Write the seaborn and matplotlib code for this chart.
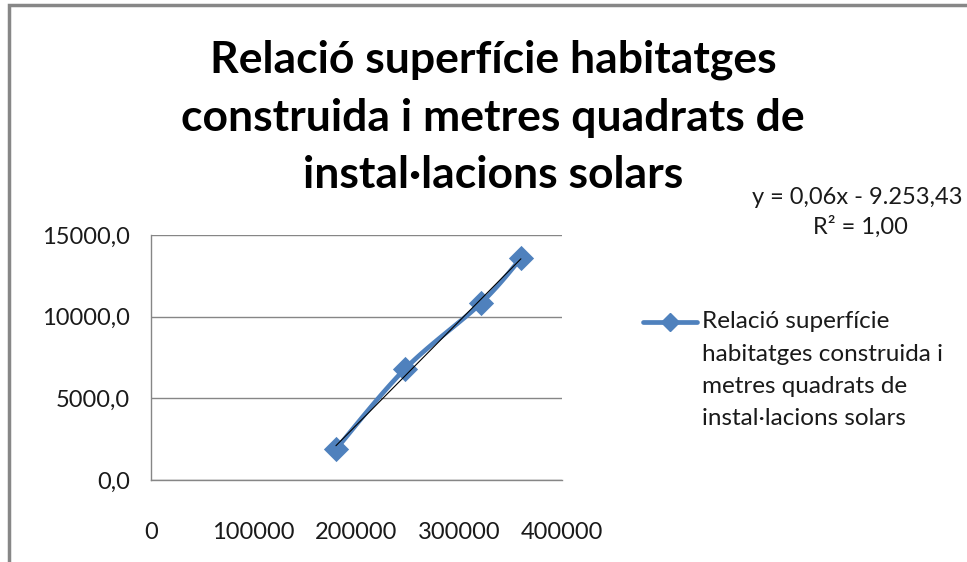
import numpy as np
import pandas as pd
import seaborn as sns
import matplotlib.pyplot as plt
from matplotlib.lines import Line2D
from matplotlib.patches import Rectangle

# data
superficie = [180000, 247000, 321000, 360000]
metres_solars = [1880, 6790, 10820, 13570]
y_ticks = [0, 5000, 10000, 15000]
x_ticks = [0, 100000, 200000, 300000, 400000]
title_lines = ["Relació superfície habitatges",
               "construida i metres quadrats de",
               "instal·lacions solars"]
legend_lines = ["Relació superfície", "habitatges construida i",
                "metres quadrats de", "instal·lacions solars"]
eq_text = "y = 0,06x - 9.253,43"
r2_text = "R² = 1,00"

blue = "#4F81BD"
grid_col = "#868686"
txt_col = "#1a1a1a"

sns.set_style("white")
plt.rcParams['font.family'] = ['Lato', 'DejaVu Sans']

df = pd.DataFrame({"x": superficie, "y": metres_solars})

fig = plt.figure(figsize=(9.67, 5.62), dpi=100)
ax = fig.add_axes([151 / 967, 1 - 480 / 562, 411 / 967, 245 / 562])

# outer chart frame (cropped at right/bottom)
fig.patches.append(Rectangle((9 / 967, -0.1), 1.2, 1 - 5 / 562 + 0.1,
                             transform=fig.transFigure, fill=False,
                             edgecolor="#878787", linewidth=2.5))


def smooth(xs, ys, n=30):
    # Catmull-Rom style smoothing like Excel's smoothed line
    xs = np.asarray(xs, float)
    ys = np.asarray(ys, float)
    px = np.concatenate([[xs[0]], xs, [xs[-1]]])
    py = np.concatenate([[ys[0]], ys, [ys[-1]]])
    out_x, out_y = [], []
    t = np.linspace(0, 1, n)
    for i in range(1, len(px) - 2):
        p0, p1, p2, p3 = [np.array([px[j], py[j]]) for j in (i - 1, i, i + 1, i + 2)]
        c1 = p1 + (p2 - p0) / 6
        c2 = p2 - (p3 - p1) / 6
        b = ((1 - t) ** 3)[:, None] * p1 + (3 * (1 - t) ** 2 * t)[:, None] * c1 \
            + (3 * (1 - t) * t ** 2)[:, None] * c2 + (t ** 3)[:, None] * p2
        out_x.extend(b[:, 0])
        out_y.extend(b[:, 1])
    return out_x, out_y


sx, sy = smooth(df["x"], df["y"])
ax.plot(sx, sy, color=blue, linewidth=3.4, solid_capstyle="round", zorder=3)
sns.scatterplot(data=df, x="x", y="y", marker="D", s=165, color=blue,
                edgecolor=blue, linewidth=0, ax=ax, zorder=4)

# linear trend line
k, b0 = np.polyfit(df["x"], df["y"], 1)
tx = np.array([df["x"].min(), df["x"].max()])
ax.plot(tx, k * tx + b0, color="black", linewidth=0.8, zorder=5)

ax.set_xlim(0, 400000)
ax.set_ylim(0, 15000)
ax.set_xticks(x_ticks)
ax.set_yticks(y_ticks)
ax.set_xticklabels([str(v) for v in x_ticks])
ax.set_yticklabels([f"{v:.1f}".replace(".", ",") for v in y_ticks])
ax.set_xlabel("")
ax.set_ylabel("")
ax.grid(axis="y", color=grid_col, linewidth=1)
ax.set_axisbelow(True)
for s in ["top", "right"]:
    ax.spines[s].set_visible(False)
for s in ["left", "bottom"]:
    ax.spines[s].set_color(grid_col)
    ax.spines[s].set_linewidth(1)
ax.tick_params(axis="both", direction="out", length=8, width=1, color=grid_col,
               labelsize=17, labelcolor=txt_col)
ax.tick_params(axis="x", pad=22)
ax.tick_params(axis="y", pad=7)

# title, three lines
for i, line in enumerate(title_lines):
    fig.text(493 / 967, 1 - (60 + 57.5 * i) / 562, line, ha="center",
             va="center", fontsize=32, fontweight="bold", color="black")

fig.text(963 / 967, 1 - 197 / 562, eq_text, ha="right", va="center",
         fontsize=17, color=txt_col)
fig.text(860 / 967, 1 - 227 / 562, r2_text, ha="center", va="center",
         fontsize=17, color=txt_col)

# legend, drawn Excel-style with the key next to the first line
ly = 1 - 322 / 562
fig.add_artist(Line2D([643 / 967, 697 / 967], [ly, ly], color=blue,
                      linewidth=3.4, transform=fig.transFigure))
fig.add_artist(Line2D([670 / 967], [ly], marker="D", markersize=9.5,
                      color=blue, linestyle="none", transform=fig.transFigure))
for i, line in enumerate(legend_lines):
    fig.text(702 / 967, 1 - (322 + 32.3 * i) / 562, line, ha="left",
             va="center", fontsize=17.5, color=txt_col)

fig.savefig("out.png", dpi=100)
